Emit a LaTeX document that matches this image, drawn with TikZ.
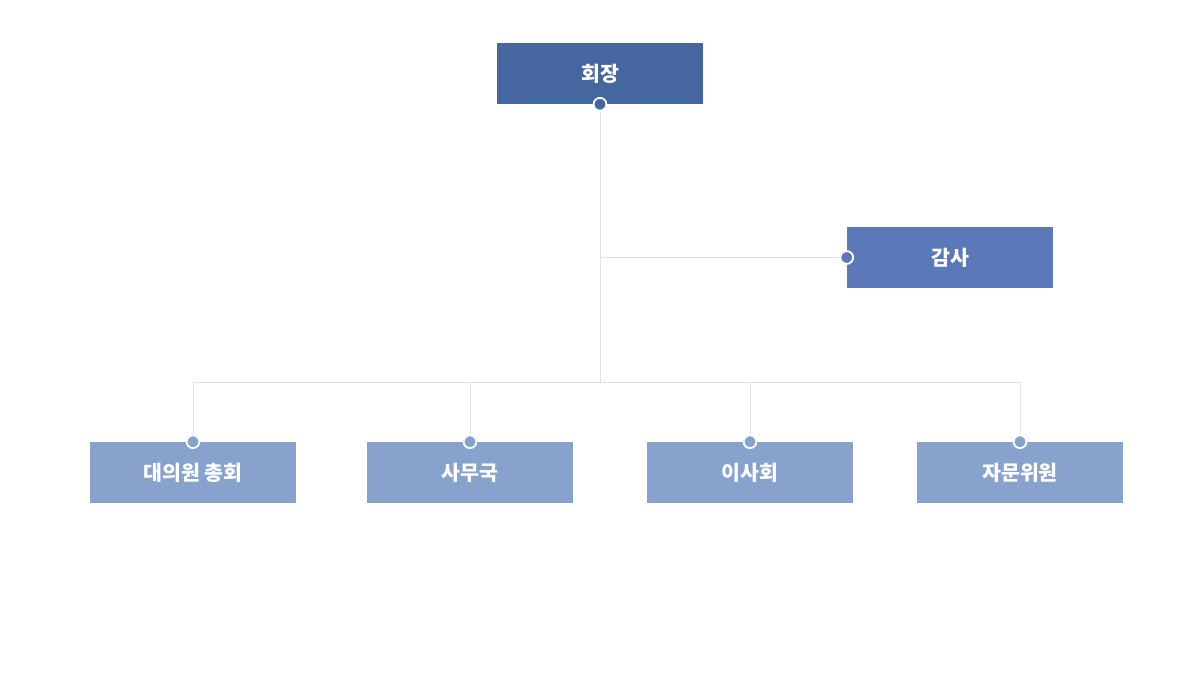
\documentclass[tikz,border=0pt]{standalone}
\usepackage{fontspec}
\newfontfamily\kr{Noto Sans CJK KR}
\definecolor{chair}{HTML}{4666A0}
\definecolor{audit}{HTML}{5B78B8}
\definecolor{branch}{HTML}{87A2CC}
\definecolor{wire}{HTML}{E3E3E3}
\tikzset{
  unit/.style={fill=#1, minimum width=5.15cm, minimum height=1.525cm, inner sep=0pt,
    text=white, font=\kr\bfseries\fontsize{14.6}{17}\selectfont},
  link/.style={draw=wire, line width=0.7pt},
  pin/.style={circle, fill=#1, draw=white, line width=1.3pt, minimum size=0.32cm, inner sep=0pt},
}

\begin{document}
\begin{tikzpicture}

  \useasboundingbox[fill=white] (0, 0) rectangle (30, 17.15);

  % ---------------------------------------------------------------- boxes
  \node[unit=chair] (president) at (15, 15.3125) {회장};
  \node[unit=audit] (auditor) at (23.75, 10.7125) {감사};

  \foreach \name/\title/\x in {assembly/대의원 총회/4.825, office/사무국/11.75,
                               board/이사회/18.75, advisory/자문위원/25.5} {
    \node[unit=branch] (\name) at (\x, 5.3375) {\title};
  }

  % ---------------------------------------------------------------- wires
  \coordinate (bus) at (15, 7.6);
  \draw[link] (president.south) -- (bus);
  \draw[link] (president.south |- auditor.west) -- (auditor.west);
  \draw[link] (assembly.north |- bus) -- (advisory.north |- bus);
  \foreach \name in {assembly, office, board, advisory}
    \draw[link] (\name.north |- bus) -- (\name.north);

  % ---------------------------------------------------------------- pins
  \node[pin=chair] (presidentPin) at (president.south) {};
  \node[pin=audit] (auditorPin) at (auditor.west) {};
  \foreach \name in {assembly, office, board, advisory}
    \node[pin=branch] (\name Pin) at (\name.north) {};

\end{tikzpicture}
\end{document}
